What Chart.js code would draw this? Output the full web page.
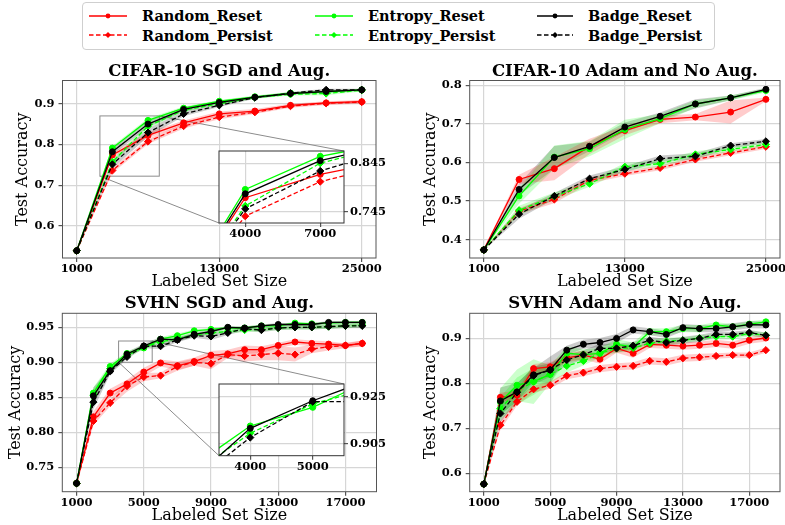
<!DOCTYPE html>
<html lang="en">
<head>
<meta charset="UTF-8"/>
<title>Reset vs Persist - active learning curves</title>
<script src="https://cdn.jsdelivr.net/npm/chart.js"></script>
<style>
  body { margin: 0; background: #fff; width: 785px; height: 525px; position: relative; overflow: hidden; font-family: "DejaVu Serif", serif; }
  canvas { position: absolute; }
  .legend { position: absolute; left: 82px; top: 2px; width: 633px; height: 48px; border: 1px solid #cfcfcf; border-radius: 4px; box-sizing: border-box; }
  .item { position: absolute; height: 18px; display: flex; align-items: center; font-weight: bold; font-size: 14.5px; white-space: nowrap; }
  .item svg { margin-right: 15px; }
</style>
</head>
<body>

<!-- Legend -->
<div class="legend">
  <div class="item" style="left:6px;top:3.5px"><svg width="38" height="12"><line x1="0" y1="6" x2="38" y2="6" stroke="#ff0000" stroke-width="1.3"/><circle cx="19" cy="6" r="2.4" fill="#ff0000"/></svg>Random_Reset</div>
  <div class="item" style="left:6px;top:23px"><svg width="38" height="12"><line x1="0" y1="6" x2="38" y2="6" stroke="#ff0000" stroke-width="1.3" stroke-dasharray="4.5 2.5"/><path d="M19 3 L22 6 L19 9 L16 6 Z" fill="#ff0000"/></svg>Random_Persist</div>
  <div class="item" style="left:232px;top:3.5px"><svg width="38" height="12"><line x1="0" y1="6" x2="38" y2="6" stroke="#00ff00" stroke-width="1.3"/><circle cx="19" cy="6" r="2.4" fill="#00ff00"/></svg>Entropy_Reset</div>
  <div class="item" style="left:232px;top:23px"><svg width="38" height="12"><line x1="0" y1="6" x2="38" y2="6" stroke="#00ff00" stroke-width="1.3" stroke-dasharray="4.5 2.5"/><path d="M19 3 L22 6 L19 9 L16 6 Z" fill="#00ff00"/></svg>Entropy_Persist</div>
  <div class="item" style="left:454px;top:3.5px"><svg width="36" height="12"><line x1="0" y1="6" x2="36" y2="6" stroke="#000" stroke-width="1.3"/><circle cx="18" cy="6" r="2.4" fill="#000"/></svg>Badge_Reset</div>
  <div class="item" style="left:454px;top:23px"><svg width="36" height="12"><line x1="0" y1="6" x2="36" y2="6" stroke="#000" stroke-width="1.3" stroke-dasharray="4.5 2.5"/><path d="M18 3 L21 6 L18 9 L15 6 Z" fill="#000"/></svg>Badge_Persist</div>
</div>

<canvas id="cifarSgd" width="392" height="240" style="left:0;top:50px"></canvas>
<canvas id="cifarAdam" width="393" height="240" style="left:392px;top:50px"></canvas>
<canvas id="svhnSgd" width="392" height="240" style="left:0;top:285px"></canvas>
<canvas id="svhnAdam" width="393" height="240" style="left:392px;top:285px"></canvas>
<canvas id="cifarSgdZoom" width="179" height="100" style="left:213px;top:145px"></canvas>
<canvas id="svhnSgdZoom" width="179" height="100" style="left:213px;top:378px"></canvas>

<script>
  // labeled set sizes
  const cifarSizes = [1000, 4000, 7000, 10000, 13000, 16000, 19000, 22000, 25000];
  const svhnSizes = [1000, 2000, 3000, 4000, 5000, 6000, 7000, 8000, 9000, 10000, 11000, 12000, 13000, 14000, 15000, 16000, 17000, 18000];
  const cifarXTicks = [1000, 13000, 25000];
  const svhnXTicks = [1000, 5000, 9000, 13000, 17000];

  // CIFAR-10, SGD + augmentation (mean test accuracy and band half-width)
  const cSgdRandReset    = [0.539, 0.774, 0.822, 0.853, 0.875, 0.882, 0.896, 0.902, 0.905];
  const cSgdRandResetSd  = [0, 0.006, 0.007, 0.006, 0.006, 0.005, 0.004, 0.004, 0.004];
  const cSgdRandPersist  = [0.539, 0.736, 0.807, 0.845, 0.867, 0.879, 0.894, 0.901, 0.904];
  const cSgdRandPersistSd= [0, 0.006, 0.006, 0.006, 0.005, 0.004, 0.004, 0.004, 0.004];
  const cSgdEntReset     = [0.539, 0.791, 0.859, 0.889, 0.906, 0.917, 0.926, 0.929, 0.934];
  const cSgdEntResetSd   = [0, 0.005, 0.005, 0.004, 0.003, 0.003, 0.003, 0.003, 0.003];
  const cSgdEntPersist   = [0.539, 0.757, 0.845, 0.884, 0.900, 0.915, 0.923, 0.925, 0.933];
  const cSgdEntPersistSd = [0, 0.006, 0.006, 0.004, 0.003, 0.003, 0.003, 0.004, 0.003];
  const cSgdBadgeReset   = [0.539, 0.782, 0.850, 0.886, 0.903, 0.916, 0.925, 0.930, 0.934];
  const cSgdBadgeResetSd = [0, 0.008, 0.008, 0.005, 0.003, 0.003, 0.003, 0.003, 0.003];
  const cSgdBadgePersist = [0.539, 0.751, 0.829, 0.875, 0.896, 0.915, 0.926, 0.934, 0.934];
  const cSgdBadgePersistSd=[0, 0.010, 0.010, 0.006, 0.004, 0.003, 0.003, 0.003, 0.003];

  // CIFAR-10, Adam, no augmentation
  const cAdamRandReset    = [0.373, 0.556, 0.584, 0.642, 0.683, 0.712, 0.718, 0.731, 0.764];
  const cAdamRandResetSd  = [0, 0.012, 0.030, 0.020, 0.012, 0.010, 0.008, 0.030, 0.005];
  const cAdamRandPersist  = [0.373, 0.474, 0.504, 0.554, 0.571, 0.586, 0.608, 0.625, 0.641];
  const cAdamRandPersistSd= [0, 0.008, 0.010, 0.008, 0.006, 0.006, 0.006, 0.006, 0.006];
  const cAdamEntReset     = [0.373, 0.513, 0.614, 0.636, 0.686, 0.714, 0.752, 0.768, 0.787];
  const cAdamEntResetSd   = [0, 0.020, 0.030, 0.020, 0.025, 0.012, 0.010, 0.006, 0.005];
  const cAdamEntPersist   = [0.373, 0.476, 0.512, 0.545, 0.589, 0.597, 0.621, 0.634, 0.647];
  const cAdamEntPersistSd = [0, 0.012, 0.010, 0.008, 0.010, 0.008, 0.008, 0.006, 0.006];
  const cAdamBadgeReset   = [0.373, 0.530, 0.613, 0.642, 0.692, 0.720, 0.752, 0.768, 0.790];
  const cAdamBadgeResetSd = [0, 0.015, 0.030, 0.012, 0.012, 0.010, 0.012, 0.006, 0.004];
  const cAdamBadgePersist = [0.373, 0.466, 0.513, 0.558, 0.582, 0.610, 0.616, 0.644, 0.655];
  const cAdamBadgePersistSd=[0, 0.012, 0.008, 0.008, 0.008, 0.008, 0.008, 0.006, 0.006];

  // SVHN, SGD + augmentation
  const sSgdRandReset    = [0.727, 0.822, 0.856, 0.869, 0.886, 0.899, 0.895, 0.901, 0.910, 0.912, 0.918, 0.918, 0.924, 0.929, 0.927, 0.926, 0.924, 0.927];
  const sSgdRandResetSd  = [0, 0.008, 0.006, 0.006, 0.006, 0.005, 0.006, 0.006, 0.006, 0.006, 0.006, 0.005, 0.004, 0.004, 0.004, 0.004, 0.003, 0.004];
  const sSgdRandPersist  = [0.727, 0.816, 0.842, 0.866, 0.879, 0.881, 0.894, 0.900, 0.898, 0.911, 0.909, 0.911, 0.913, 0.911, 0.919, 0.922, 0.924, 0.927];
  const sSgdRandPersistSd= [0, 0.006, 0.005, 0.008, 0.006, 0.004, 0.006, 0.005, 0.008, 0.005, 0.008, 0.008, 0.010, 0.010, 0.006, 0.005, 0.004, 0.004];
  const sSgdEntReset     = [0.727, 0.856, 0.894, 0.9126, 0.9205, 0.933, 0.938, 0.945, 0.947, 0.949, 0.949, 0.952, 0.952, 0.956, 0.955, 0.956, 0.957, 0.957];
  const sSgdEntResetSd   = [0, 0.008, 0.004, 0.003, 0.003, 0.003, 0.003, 0.002, 0.002, 0.002, 0.002, 0.002, 0.002, 0.002, 0.002, 0.002, 0.002, 0.002];
  const sSgdEntPersist   = [0.727, 0.853, 0.891, 0.9095, 0.922, 0.929, 0.934, 0.939, 0.942, 0.944, 0.946, 0.947, 0.949, 0.950, 0.950, 0.951, 0.952, 0.953];
  const sSgdEntPersistSd = [0, 0.008, 0.004, 0.003, 0.003, 0.003, 0.003, 0.003, 0.003, 0.003, 0.003, 0.003, 0.003, 0.003, 0.003, 0.003, 0.003, 0.003];
  const sSgdBadgeReset   = [0.727, 0.852, 0.888, 0.9116, 0.9233, 0.933, 0.932, 0.940, 0.944, 0.950, 0.949, 0.952, 0.954, 0.954, 0.954, 0.957, 0.957, 0.957];
  const sSgdBadgeResetSd = [0, 0.012, 0.004, 0.003, 0.003, 0.003, 0.003, 0.003, 0.003, 0.002, 0.002, 0.002, 0.002, 0.002, 0.002, 0.002, 0.002, 0.002];
  const sSgdBadgePersist = [0.727, 0.843, 0.887, 0.9077, 0.9229, 0.923, 0.932, 0.938, 0.937, 0.942, 0.948, 0.946, 0.949, 0.950, 0.950, 0.951, 0.952, 0.952];
  const sSgdBadgePersistSd=[0, 0.010, 0.004, 0.003, 0.003, 0.004, 0.003, 0.003, 0.005, 0.003, 0.003, 0.003, 0.003, 0.003, 0.003, 0.003, 0.003, 0.003];

  // SVHN, Adam, no augmentation
  const sAdamRandReset    = [0.576, 0.769, 0.774, 0.833, 0.837, 0.857, 0.863, 0.854, 0.878, 0.867, 0.887, 0.885, 0.883, 0.885, 0.889, 0.885, 0.896, 0.901];
  const sAdamRandResetSd  = [0, 0.010, 0.010, 0.010, 0.010, 0.010, 0.010, 0.010, 0.010, 0.010, 0.008, 0.008, 0.008, 0.008, 0.008, 0.008, 0.008, 0.008];
  const sAdamRandPersist  = [0.576, 0.707, 0.759, 0.787, 0.796, 0.817, 0.824, 0.833, 0.837, 0.839, 0.850, 0.848, 0.856, 0.858, 0.861, 0.863, 0.863, 0.874];
  const sAdamRandPersistSd= [0, 0.010, 0.008, 0.008, 0.008, 0.008, 0.008, 0.008, 0.008, 0.008, 0.008, 0.008, 0.008, 0.008, 0.006, 0.006, 0.006, 0.006];
  const sAdamEntReset     = [0.576, 0.759, 0.796, 0.804, 0.820, 0.867, 0.864, 0.867, 0.887, 0.881, 0.915, 0.915, 0.922, 0.922, 0.930, 0.926, 0.932, 0.937];
  const sAdamEntResetSd   = [0, 0.030, 0.035, 0.050, 0.020, 0.015, 0.012, 0.012, 0.012, 0.010, 0.008, 0.008, 0.008, 0.008, 0.006, 0.006, 0.006, 0.006];
  const sAdamEntPersist   = [0.576, 0.744, 0.783, 0.804, 0.820, 0.839, 0.850, 0.867, 0.878, 0.879, 0.889, 0.894, 0.896, 0.901, 0.904, 0.904, 0.911, 0.907];
  const sAdamEntPersistSd = [0, 0.025, 0.030, 0.030, 0.020, 0.015, 0.010, 0.010, 0.010, 0.008, 0.008, 0.008, 0.006, 0.006, 0.006, 0.006, 0.006, 0.006];
  const sAdamBadgeReset   = [0.576, 0.761, 0.781, 0.819, 0.830, 0.874, 0.887, 0.891, 0.900, 0.919, 0.915, 0.909, 0.924, 0.922, 0.922, 0.926, 0.931, 0.930];
  const sAdamBadgeResetSd = [0, 0.030, 0.020, 0.015, 0.030, 0.010, 0.010, 0.010, 0.010, 0.008, 0.008, 0.008, 0.008, 0.008, 0.008, 0.008, 0.008, 0.008];
  const sAdamBadgePersist = [0.576, 0.733, 0.780, 0.817, 0.830, 0.852, 0.864, 0.878, 0.878, 0.884, 0.896, 0.891, 0.896, 0.900, 0.909, 0.909, 0.913, 0.907];
  const sAdamBadgePersistSd=[0, 0.020, 0.020, 0.020, 0.015, 0.012, 0.010, 0.010, 0.010, 0.008, 0.008, 0.008, 0.008, 0.008, 0.006, 0.006, 0.006, 0.006];

  const COLOR = { Random: '#ff0000', Entropy: '#00ff00', Badge: '#000000' };
  const BAND = { Random: 'rgba(255,0,0,0.2)', Entropy: 'rgba(0,255,0,0.2)', Badge: 'rgba(0,0,0,0.2)' };
  const LAYER = { Badge: 1, Entropy: 2, Random: 3 };

  const tickFont = { family: 'DejaVu Serif', weight: 'bold', size: 11.5 };
  const labelFont = { family: 'DejaVu Serif', size: 16, lineHeight: 1 };
  const titleFont = { family: 'DejaVu Serif', weight: 'bold', size: 16.5, lineHeight: 1 };

  function buildDatasets(sizes, runs, bands) {
    const out = [];
    runs.forEach(([method, persist, vals, sd]) => {
      if (bands) {
        out.push({ data: sizes.map((x, i) => ({ x, y: vals[i] - sd[i] })), borderWidth: 0, pointRadius: 0, fill: false, order: 10 });
        out.push({ data: sizes.map((x, i) => ({ x, y: vals[i] + sd[i] })), borderWidth: 0, pointRadius: 0, fill: '-1', backgroundColor: BAND[method], order: 10 });
      }
      out.push({
        data: sizes.map((x, i) => ({ x, y: vals[i] })),
        borderColor: COLOR[method], backgroundColor: COLOR[method],
        borderWidth: 1.3, borderDash: persist ? [4.5, 2.5] : [],
        pointStyle: persist ? 'rectRot' : 'circle', pointRadius: persist ? 3.6 : 3,
        pointBorderWidth: 1, fill: false, order: LAYER[method]
      });
    });
    return out;
  }

  // plot box (matplotlib spines)
  const frame = {
    id: 'frame',
    afterDatasetsDraw(chart, args, opts) {
      const a = chart.chartArea, ctx = chart.ctx;
      ctx.save();
      ctx.strokeStyle = opts.color || '#555';
      ctx.lineWidth = 1;
      ctx.strokeRect(a.left, a.top, a.right - a.left, a.bottom - a.top);
      ctx.restore();
    }
  };

  // white background for the inset axes
  const insetBg = {
    id: 'insetBg',
    beforeDraw(chart, args, opts) {
      if (!opts.on) return;
      const a = chart.chartArea, ctx = chart.ctx;
      ctx.save();
      ctx.fillStyle = '#fff';
      ctx.fillRect(a.left, a.top, a.right - a.left, a.bottom - a.top);
      ctx.restore();
    }
  };

  // zoom rectangle and connectors to the inset
  const zoomMark = {
    id: 'zoomMark',
    beforeDatasetsDraw(chart, args, opts) {
      if (!opts.box) return;
      const b = opts.box, t = opts.target, ctx = chart.ctx;
      const xs = chart.scales.x, ys = chart.scales.y;
      const l = xs.getPixelForValue(b.x0), r = xs.getPixelForValue(b.x1);
      const top = ys.getPixelForValue(b.y1), bot = ys.getPixelForValue(b.y0);
      ctx.save();
      ctx.strokeStyle = '#8c8c8c';
      ctx.lineWidth = 1;
      ctx.strokeRect(l, top, r - l, bot - top);
      ctx.beginPath();
      ctx.moveTo(r, top); ctx.lineTo(t.right, t.top);
      ctx.moveTo(l, bot); ctx.lineTo(t.left, t.bottom);
      ctx.stroke();
      ctx.restore();
    }
  };

  function makeChart(id, o) {
    const inset = !!o.inset;
    return new Chart(document.getElementById(id), {
      type: 'line',
      data: { datasets: buildDatasets(o.sizes, o.runs, !inset) },
      plugins: [frame, insetBg, zoomMark],
      options: {
        responsive: false,
        animation: false,
        events: [],
        elements: { line: { tension: 0 } },
        layout: { padding: o.pad },
        plugins: {
          legend: { display: false },
          tooltip: { enabled: false },
          title: inset ? { display: false } : {
            display: true, text: o.title, fullSize: false, color: '#000',
            font: titleFont, padding: o.titlePad
          },
          frame: { color: inset ? '#333' : '#555' },
          insetBg: { on: inset },
          zoomMark: { box: o.box, target: o.target }
        },
        scales: {
          x: {
            type: 'linear', min: o.xMin, max: o.xMax,
            afterBuildTicks: s => { s.ticks = o.xTicks.map(v => ({ value: v })); },
            afterFit: s => { s.height = o.xH; s.paddingLeft = 0; s.paddingRight = 0; },
            ticks: { font: tickFont, color: '#000', padding: 0, maxRotation: 0, autoSkip: false, callback: v => String(v) },
            grid: { color: '#d6d6d6', lineWidth: 1.2, tickColor: '#555', tickLength: 4 },
            border: { display: false },
            title: inset ? { display: false } : {
              display: true, text: 'Labeled Set Size', color: '#000', font: labelFont,
              padding: { top: 0, bottom: o.xTitlePad }
            }
          },
          y: {
            type: 'linear', min: o.yMin, max: o.yMax, position: inset ? 'right' : 'left',
            afterBuildTicks: s => { s.ticks = o.yTicks.map(v => ({ value: v })); },
            afterFit: s => { s.width = o.yW; s.paddingTop = 0; s.paddingBottom = 0; },
            ticks: { font: tickFont, color: '#000', padding: inset ? 2 : 4, autoSkip: false, callback: v => v.toFixed(o.yDigits) },
            grid: { color: '#d6d6d6', lineWidth: 1.2, tickColor: '#555', tickLength: 4 },
            border: { display: false },
            title: inset ? { display: false } : {
              display: true, text: 'Test Accuracy', color: '#000', font: labelFont,
              padding: { top: o.yTitlePad, bottom: 0 }
            }
          }
        }
      }
    });
  }

  const cSgdRuns = [
    ['Random', false, cSgdRandReset, cSgdRandResetSd], ['Random', true, cSgdRandPersist, cSgdRandPersistSd],
    ['Entropy', false, cSgdEntReset, cSgdEntResetSd], ['Entropy', true, cSgdEntPersist, cSgdEntPersistSd],
    ['Badge', false, cSgdBadgeReset, cSgdBadgeResetSd], ['Badge', true, cSgdBadgePersist, cSgdBadgePersistSd]
  ];
  const cAdamRuns = [
    ['Random', false, cAdamRandReset, cAdamRandResetSd], ['Random', true, cAdamRandPersist, cAdamRandPersistSd],
    ['Entropy', false, cAdamEntReset, cAdamEntResetSd], ['Entropy', true, cAdamEntPersist, cAdamEntPersistSd],
    ['Badge', false, cAdamBadgeReset, cAdamBadgeResetSd], ['Badge', true, cAdamBadgePersist, cAdamBadgePersistSd]
  ];
  const sSgdRuns = [
    ['Random', false, sSgdRandReset, sSgdRandResetSd], ['Random', true, sSgdRandPersist, sSgdRandPersistSd],
    ['Entropy', false, sSgdEntReset, sSgdEntResetSd], ['Entropy', true, sSgdEntPersist, sSgdEntPersistSd],
    ['Badge', false, sSgdBadgeReset, sSgdBadgeResetSd], ['Badge', true, sSgdBadgePersist, sSgdBadgePersistSd]
  ];
  const sAdamRuns = [
    ['Random', false, sAdamRandReset, sAdamRandResetSd], ['Random', true, sAdamRandPersist, sAdamRandPersistSd],
    ['Entropy', false, sAdamEntReset, sAdamEntResetSd], ['Entropy', true, sAdamEntPersist, sAdamEntPersistSd],
    ['Badge', false, sAdamBadgeReset, sAdamBadgeResetSd], ['Badge', true, sAdamBadgePersist, sAdamBadgePersistSd]
  ];

  makeChart('cifarSgd', {
    title: 'CIFAR-10 SGD and Aug.', sizes: cifarSizes, runs: cSgdRuns,
    xMin: -200, xMax: 26200, xTicks: cifarXTicks, yMin: 0.521, yMax: 0.957, yTicks: [0.6, 0.7, 0.8, 0.9], yDigits: 1,
    pad: { left: 0, top: 0, right: 16, bottom: 0 }, titlePad: { top: 13.5, bottom: 0.5 },
    yW: 62.5, xH: 32, yTitlePad: 15, xTitlePad: 0,
    box: { x0: 2950, x1: 7950, y0: 0.722, y1: 0.870 }, target: { left: 219, top: 101, right: 344, bottom: 173 }
  });
  makeChart('cifarAdam', {
    title: 'CIFAR-10 Adam and No Aug.', sizes: cifarSizes, runs: cAdamRuns,
    xMin: -200, xMax: 26200, xTicks: cifarXTicks, yMin: 0.352, yMax: 0.813, yTicks: [0.4, 0.5, 0.6, 0.7, 0.8], yDigits: 1,
    pad: { left: 0, top: 0, right: 2, bottom: 0 }, titlePad: { top: 13.5, bottom: 0.5 },
    yW: 77.7, xH: 32, yTitlePad: 31, xTitlePad: 0
  });
  makeChart('svhnSgd', {
    title: 'SVHN SGD and Aug.', sizes: svhnSizes, runs: sSgdRuns,
    xMin: 150, xMax: 18850, xTicks: svhnXTicks, yMin: 0.715, yMax: 0.970, yTicks: [0.75, 0.80, 0.85, 0.90, 0.95], yDigits: 2,
    pad: { left: 0, top: 0, right: 15.5, bottom: 0 }, titlePad: { top: 10.7, bottom: 1.1 },
    yW: 62.3, xH: 33.3, yTitlePad: 8, xTitlePad: 1
  ,
    box: { x0: 3500, x1: 5500, y0: 0.900, y1: 0.9304 }, target: { left: 219, top: 99, right: 344, bottom: 170.7 }
  });
  makeChart('svhnAdam', {
    title: 'SVHN Adam and No Aug.', sizes: svhnSizes, runs: sAdamRuns,
    xMin: 150, xMax: 18850, xTicks: svhnXTicks, yMin: 0.559, yMax: 0.956, yTicks: [0.6, 0.7, 0.8, 0.9], yDigits: 1,
    pad: { left: 0, top: 0, right: 3, bottom: 0 }, titlePad: { top: 10.7, bottom: 1.1 },
    yW: 77.7, xH: 33.3, yTitlePad: 31, xTitlePad: 1
  });

  // insets
  makeChart('cifarSgdZoom', {
    inset: true, sizes: cifarSizes, runs: cSgdRuns,
    xMin: 2950, xMax: 7950, xTicks: [4000, 7000], yMin: 0.722, yMax: 0.870, yTicks: [0.745, 0.845], yDigits: 3,
    pad: { left: 6, top: 6, right: 0, bottom: 0 }, yW: 48, xH: 22
  });
  makeChart('svhnSgdZoom', {
    inset: true, sizes: svhnSizes, runs: sSgdRuns,
    xMin: 3500, xMax: 5500, xTicks: [4000, 5000], yMin: 0.900, yMax: 0.9304, yTicks: [0.905, 0.925], yDigits: 3,
    pad: { left: 6, top: 6, right: 0, bottom: 0 }, yW: 48, xH: 22.3
  });
</script>
</body>
</html>
